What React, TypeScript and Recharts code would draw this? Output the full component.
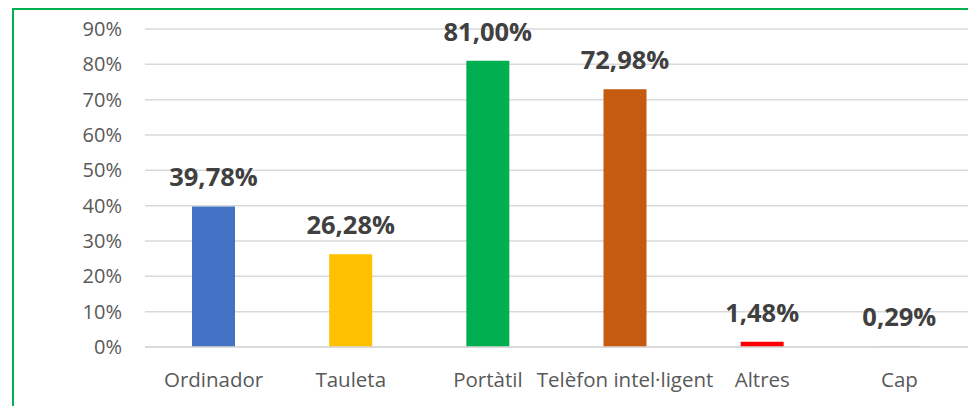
import { Bar, BarChart, CartesianGrid, Cell, LabelList, XAxis, YAxis } from 'recharts'

// device categories and the share of respondents that use each one
const categories = ['Ordinador', 'Tauleta', 'Portàtil', 'Telèfon intel·ligent', 'Altres', 'Cap']
const shares = [39.78, 26.28, 81.0, 72.98, 1.48, 0.29]
const barColors = ['#4472C4', '#FFC000', '#00B050', '#C55A11', '#FF0000', '#B4C7E7']
const yTicks = [0, 10, 20, 30, 40, 50, 60, 70, 80, 90]

const rows = categories.map((name, i) => ({ name, value: shares[i] }))

const font = '"Open Sans", "Noto Sans", sans-serif'

const pct = (v: unknown) => `${Number(v).toFixed(2).replace('.', ',')}%`

export default function App() {
  return (
    <div style={{ position: 'absolute', left: 0, top: 0, width: 968, height: 406, overflow: 'hidden', background: '#fff' }}>
      <div
        style={{
          position: 'absolute',
          left: 12,
          top: 8,
          width: 1000,
          height: 500,
          borderLeft: '2px solid #00B050',
          borderTop: '2px solid #00B050',
        }}
      />
      <div style={{ position: 'absolute', left: 0, top: 0 }}>
        <BarChart
          width={968}
          height={406}
          data={rows}
          margin={{ top: 29, right: 0, bottom: 29, left: 85 }}
          style={{ fontFamily: font }}
        >
          <CartesianGrid vertical={false} stroke="#D9D9D9" strokeWidth={1.5} />
          <XAxis
            dataKey="name"
            height={30}
            interval={0}
            tickLine={false}
            axisLine={{ stroke: '#D9D9D9', strokeWidth: 1.5 }}
            tickMargin={19}
            tick={{ fill: '#595959', fontSize: 20.5 }}
          />
          <YAxis
            width={60}
            domain={[0, 90]}
            ticks={yTicks}
            interval={0}
            tickLine={false}
            axisLine={false}
            tickMargin={17}
            tickFormatter={(v) => `${v}%`}
            tick={{ fill: '#595959', fontSize: 20 }}
          />
          <Bar dataKey="value" barSize={43} isAnimationActive={false}>
            {rows.map((r, i) => (
              <Cell key={r.name} fill={barColors[i]} />
            ))}
            <LabelList
              dataKey="value"
              position="top"
              offset={20}
              formatter={pct}
              style={{ fill: '#404040', fontSize: 25.5, fontWeight: 700, fontFamily: font }}
            />
          </Bar>
        </BarChart>
      </div>
    </div>
  )
}
